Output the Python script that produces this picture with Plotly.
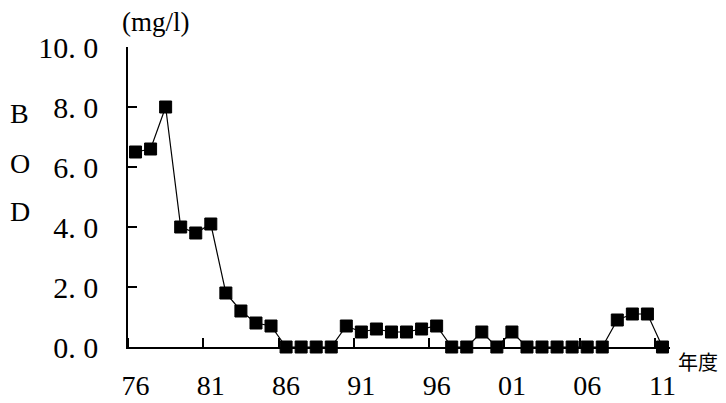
import plotly.graph_objects as go

years = list(range(1976, 2012))
bod = [6.5, 6.6, 8.0, 4.0, 3.8, 4.1, 1.8, 1.2, 0.8, 0.7,
       0.0, 0.0, 0.0, 0.0, 0.7, 0.5, 0.6, 0.5, 0.5, 0.6,
       0.7, 0.0, 0.0, 0.5, 0.0, 0.5, 0.0, 0.0, 0.0, 0.0,
       0.0, 0.0, 0.9, 1.1, 1.1, 0.0]
x_tick_years = [1976, 1981, 1986, 1991, 1996, 2001, 2006, 2011]
x_tick_text = ["76", "81", "86", "91", "96", "01", "06", "11"]
y_tick_vals = [0, 2, 4, 6, 8, 10]
y_tick_text = ["0. 0", "2. 0", "4. 0", "6. 0", "8. 0", "10. 0"]

SERIF = "Liberation Serif, Times New Roman, serif"

fig = go.Figure()
fig.add_trace(go.Scatter(
    x=years, y=bod, mode="lines+markers",
    line=dict(color="black", width=1.2),
    marker=dict(symbol="square", size=12, color="black",
                line=dict(color="black", width=1)),
    cliponaxis=False, showlegend=False,
))

fig.update_layout(
    width=718, height=395,
    margin=dict(l=120, r=56, t=39, b=56),
    paper_bgcolor="white", plot_bgcolor="white",
    xaxis=dict(
        range=[1975.5, 2011.5], tickmode="array",
        tickvals=x_tick_years, ticktext=x_tick_text,
        ticks="", showgrid=False, zeroline=False,
        showline=True, linecolor="black", linewidth=1.5,
        layer="below traces", automargin=False,
        tickfont=dict(family=SERIF, size=28, color="black"),
        ticklabelstandoff=13,
        minor=dict(tickmode="linear", tick0=1980.5, dtick=5,
                   ticks="inside", ticklen=9, tickwidth=1.5,
                   tickcolor="black", showgrid=False),
    ),
    yaxis=dict(
        range=[0, 10], tickmode="array",
        tickvals=y_tick_vals, ticktext=y_tick_text,
        ticks="inside", ticklen=9, tickwidth=1.5, tickcolor="black",
        showgrid=False, zeroline=False,
        showline=True, linecolor="black", linewidth=1.5,
        layer="below traces", automargin=False,
        tickfont=dict(family=SERIF, size=30, color="black"),
        ticklabelstandoff=22,
    ),
    annotations=[
        dict(text="(mg/l)", xref="paper", yref="paper", x=-0.015, y=1.0,
             xanchor="left", yanchor="bottom", yshift=8, showarrow=False,
             font=dict(family=SERIF, size=27, color="black")),
        dict(text="年度", xref="paper", yref="paper", x=1.0, y=0.0,
             xanchor="left", yanchor="top", xshift=6, yshift=2, showarrow=False,
             font=dict(family="Noto Sans CJK JP", size=20, color="black")),
        dict(text="B", xref="paper", yref="paper", x=-0.2, y=0.785,
             xanchor="center", yanchor="middle", yshift=-2, showarrow=False,
             font=dict(family=SERIF, size=28, color="black")),
        dict(text="O", xref="paper", yref="paper", x=-0.2, y=0.618,
             xanchor="center", yanchor="middle", yshift=-2, showarrow=False,
             font=dict(family=SERIF, size=28, color="black")),
        dict(text="D", xref="paper", yref="paper", x=-0.2, y=0.458,
             xanchor="center", yanchor="middle", yshift=-2, showarrow=False,
             font=dict(family=SERIF, size=28, color="black")),
    ],
)

fig.write_html("out.html")
